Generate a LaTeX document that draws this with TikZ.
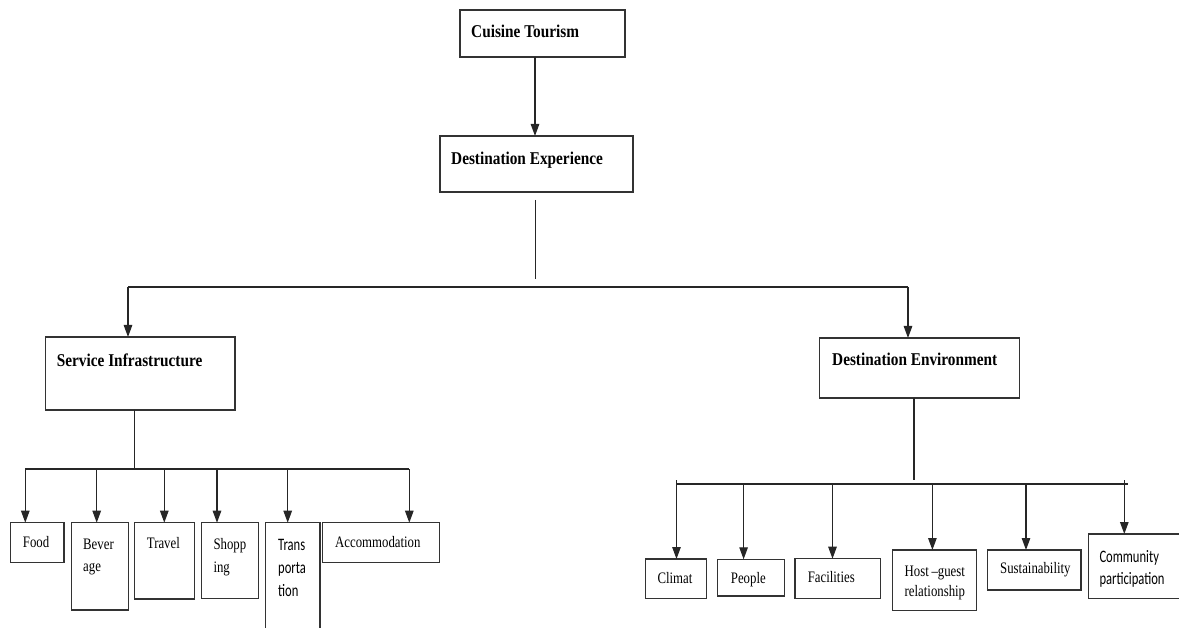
\documentclass[tikz,border=0pt]{standalone}
\usepackage{fontspec}
\setmainfont{Liberation Serif}
\newfontfamily\headfont[FakeStretch=0.85]{Liberation Serif}
\newfontfamily\smallserif[FakeStretch=0.8]{Liberation Serif}
\newfontfamily\smallsans[FakeStretch=0.72]{Carlito}
\usetikzlibrary{arrows.meta}
\tikzset{
  box/.style={draw=black!80, line width=1.3pt, rectangle, inner sep=0pt, outer sep=0pt, anchor=north west},
  conn/.style={draw=black!85, line width=1.2pt},
  arr/.style={conn, -{Triangle[length=12pt,width=8.5pt]}},
  head/.style={inner sep=0pt, anchor=base west, font=\headfont\bfseries\fontsize{18}{21}\selectfont},
  lab/.style={inner sep=0pt, anchor=base west, font=\smallserif\fontsize{16}{22.7}\selectfont},
  labtwo/.style={inner sep=0pt, anchor=north west, align=left},
  sanslab/.style={inner sep=0pt, anchor=north west, align=left}
}
\begin{document}
\begin{tikzpicture}[x=1pt,y=-1pt]
\useasboundingbox (0,0) rectangle (1179,628);
\clip (0,0) rectangle (1179,628);
% main boxes
\node[box, minimum width=165pt, minimum height=47pt] (ct) at (460,10) {};
\node[head] (ctT) at (471,38) {Cuisine Tourism};
\node[box, minimum width=193pt, minimum height=56pt] (de) at (440,136) {};
\node[head] (deT) at (451,165) {Destination Experience};
\node[box, minimum width=189.5pt, minimum height=73pt] (si) at (45.5,337) {};
\node[head] (siT) at (56.7,367) {Service Infrastructure};
\node[box, minimum width=200pt, minimum height=60pt] (env) at (819.5,338) {};
\node[head] (envT) at (832,366) {Destination Environment};
% service children
\node[box, minimum width=53.3pt, minimum height=40pt] (food) at (10.7,522.7) {};
\node[lab] (foodT) at (22.7,547) {Food};
\node[box, minimum width=57pt, minimum height=87.3pt] (bev) at (71.7,522.7) {};
\node[labtwo, font=\smallserif\fontsize{16}{22.7}\selectfont] (bevT) at (83,538.4) {Bever\\age};
\node[box, minimum width=60pt, minimum height=76.3pt] (trav) at (134.3,522.7) {};
\node[lab] (travT) at (146.7,548) {Travel};
\node[box, minimum width=57pt, minimum height=76pt] (shop) at (201.3,522.7) {};
\node[labtwo, font=\smallserif\fontsize{16}{22.7}\selectfont] (shopT) at (213.3,538.4) {Shopp\\ing};
\node[box, minimum width=54.3pt, minimum height=115pt] (trans) at (265.7,522.7) {};
\node[sanslab, font=\smallsans\fontsize{17.5}{23.2}\selectfont] (transT) at (278,539) {Trans\\porta\\tion};
\node[box, minimum width=116.6pt, minimum height=40pt] (acc) at (322.7,522.7) {};
\node[lab] (accT) at (335,547) {Accommodation};
% environment children
\node[box, minimum width=60.5pt, minimum height=39.3pt] (clim) at (645.7,559) {};
\node[lab] (climT) at (657.3,583) {Climat};
\node[box, minimum width=67.1pt, minimum height=36.7pt] (peop) at (717.4,559.3) {};
\node[lab] (peopT) at (730.7,583) {People};
\node[box, minimum width=85.7pt, minimum height=39.6pt] (fac) at (795,558.7) {};
\node[lab] (facT) at (807.6,582) {Facilities};
\node[box, minimum width=84.2pt, minimum height=60.7pt] (host) at (892.6,550) {};
\node[labtwo, font=\smallserif\fontsize{16}{20.7}\selectfont] (hostT) at (904.5,565.4) {Host\,–guest\\relationship};
\node[box, minimum width=93.3pt, minimum height=40pt] (sust) at (987.7,550) {};
\node[lab] (sustT) at (1000,573) {Sustainability};
\node[box, minimum width=100pt, minimum height=64.3pt] (comm) at (1088.3,534) {};
\node[sanslab, font=\smallsans\fontsize{17.5}{21.3}\selectfont] (commT) at (1099.3,550.5) {Community\\participation};
% connector coordinates
\coordinate (t1) at (535,0);
\coordinate (m1) at (535.5,200);
\coordinate (m2) at (535.5,279);
\coordinate (b1) at (128,287);
\coordinate (b2) at (908,287);
\coordinate (sM) at (134.3,469);
\coordinate (d1) at (25.3,469);
\coordinate (d2) at (96.7,469);
\coordinate (d3) at (164.3,469);
\coordinate (d4) at (217,469);
\coordinate (d5) at (287.7,469);
\coordinate (d6) at (409.3,469);
\coordinate (e0) at (914,480);
\coordinate (f1) at (676.5,484);
\coordinate (f2) at (743.6,484);
\coordinate (f3) at (832.5,484);
\coordinate (f4) at (932.4,484);
\coordinate (f5) at (1026,484);
\coordinate (f6) at (1124.3,484);
\coordinate (fe) at (1128.3,484);
% connectors
\draw[arr] (ct.south -| t1) -- (de.north -| t1);
\draw[conn] (m1) -- (m2);
\draw[conn] (b1) -- (b2);
\draw[arr] (b1) -- (si.north -| b1);
\draw[arr] (b2) -- (env.north -| b2);
\draw[conn] (si.south -| sM) -- (sM);
\draw[conn] (d1) -- (d6);
\draw[arr] (d1) -- (food.north -| d1);
\draw[arr] (d2) -- (bev.north -| d2);
\draw[arr] (d3) -- (trav.north -| d3);
\draw[arr] (d4) -- (shop.north -| d4);
\draw[arr] (d5) -- (trans.north -| d5);
\draw[arr] (d6) -- (acc.north -| d6);
\draw[conn] (env.south -| e0) -- (e0);
\draw[conn] (f1) -- (fe);
\draw[conn] (f1) -- ++(0,-4);
\draw[conn] (f6) -- ++(0,-4);
\draw[arr] (f1) -- (clim.north -| f1);
\draw[arr] (f2) -- (peop.north -| f2);
\draw[arr] (f3) -- (fac.north -| f3);
\draw[arr] (f4) -- (host.north -| f4);
\draw[arr] (f5) -- (sust.north -| f5);
\draw[arr] (f6) -- (comm.north -| f6);
\end{tikzpicture}
\end{document}
